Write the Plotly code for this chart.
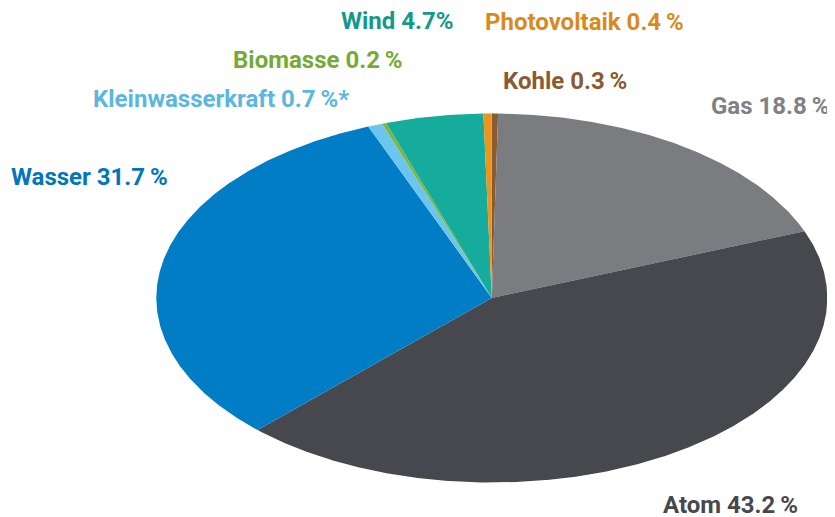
import numpy as np
import plotly.graph_objects as go

# Data (clockwise from the top)
categories = ["Kohle", "Gas", "Atom", "Wasser", "Kleinwasserkraft", "Biomasse", "Wind", "Photovoltaik"]
values = [0.3, 18.8, 43.2, 31.7, 0.7, 0.2, 4.7, 0.4]
labels = ["Kohle 0.3\u2009%", "Gas 18.8\u2009%", "Atom 43.2\u2009%", "Wasser 31.7\u2009%",
          "Kleinwasserkraft 0.7\u2009%*", "Biomasse 0.2\u2009%", "Wind 4.7%", "Photovoltaik 0.4\u2009%"]

slice_colors = ["#8a5a33", "#7b7c80", "#46484d", "#007dc5", "#6cc5ef", "#7db83a", "#15ab9d", "#e8961e"]
label_colors = ["#8a5a33", "#808184", "#46484d", "#0076bd", "#5cb6e2", "#76aa37", "#14998c", "#da8a1c"]
# label anchor positions (window pixels, left / vertical middle)
label_px = [(501, 81), (709, 106), (661, 505), (9, 177), (91, 99), (231, 60), (339, 21), (483, 22)]

OFF = 8                       # page body margin
W, H = 835 - OFF, 517 - OFF   # figure size so it fits the window
cx, cy, a, b = 491.8 - OFF, 298.0 - OFF, 335.5, 184.5  # ellipse geometry in figure pixels

fig = go.Figure()
total = sum(values)
cum = 0.0
for name, v, col in zip(categories, values, slice_colors):
    t0 = cum / total * 2 * np.pi
    cum += v
    t1 = cum / total * 2 * np.pi
    n = max(4, int(np.ceil((t1 - t0) / np.radians(0.25))))
    t = np.linspace(t0, t1, n)
    xs = np.concatenate([[0.0], np.sin(t), [0.0]])
    ys = np.concatenate([[0.0], np.cos(t), [0.0]])
    fig.add_trace(go.Scatter(x=xs, y=ys, mode="lines", fill="toself", fillcolor=col,
                             line=dict(width=0, color=col), name=name, hoverinfo="name",
                             showlegend=False))

for txt, col, (px, py) in zip(labels, label_colors, label_px):
    fig.add_annotation(x=(px - OFF) / W, y=1 - (py - OFF) / H, xref="paper", yref="paper",
                       text="<b>%s</b>" % txt, showarrow=False, xanchor="left", yanchor="middle",
                       font=dict(family="Roboto", size=24, color=col))

fig.update_xaxes(range=[-cx / a, (W - cx) / a], visible=False, fixedrange=True)
fig.update_yaxes(range=[-(H - cy) / b, cy / b], visible=False, fixedrange=True)
fig.update_layout(width=W, height=H, margin=dict(l=0, r=0, t=0, b=0),
                  paper_bgcolor="white", plot_bgcolor="white")
fig.write_html("out.html")
